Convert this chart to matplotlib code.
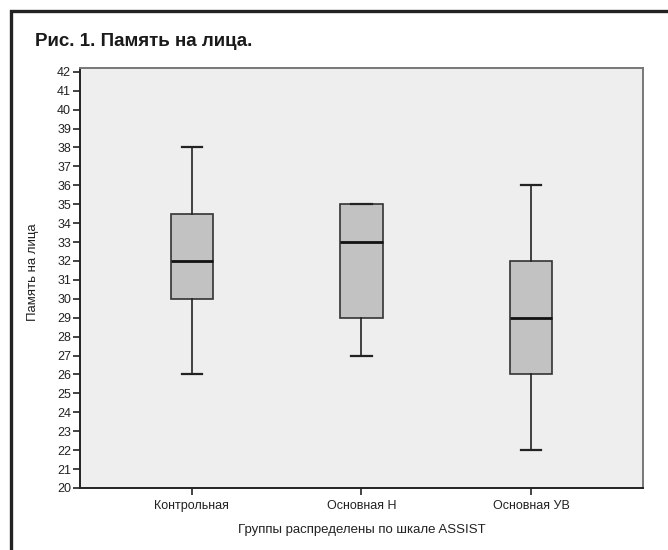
import matplotlib.pyplot as plt
from matplotlib.patches import Rectangle

plt.rcParams['font.family'] = ['Liberation Sans', 'DejaVu Sans']

# данные по группам
groups = ['Контрольная', 'Основная Н', 'Основная УВ']
whislo = [26, 27, 22]
q1 = [30, 29, 26]
med = [32, 33, 29]
q3 = [34.5, 35, 32]
whishi = [38, 35, 36]

stats = []
for i in range(len(groups)):
    stats.append({'label': groups[i], 'whislo': whislo[i], 'q1': q1[i],
                  'med': med[i], 'q3': q3[i], 'whishi': whishi[i], 'fliers': []})

fig = plt.figure(figsize=(6.68, 5.5), dpi=100)
W, H = 668, 550

# рамка вокруг рисунка (справа и снизу обрезана)
fig.patches.append(Rectangle((11 / W, -0.05), 1.0, 1 - 11 / H + 0.05,
                             transform=fig.transFigure, fill=False,
                             edgecolor='#222222', linewidth=2.4))

fig.text(35 / W, 1 - 42 / H, 'Рис. 1. Память на лица.', fontsize=13.5,
         fontweight='bold', va='center', ha='left', color='#1a1a1a')

ax = fig.add_axes([80 / W, 1 - 488 / H, 563 / W, 420 / H])
ax.set_facecolor('#eeeeee')

ax.bxp(stats, positions=[1, 2, 3], widths=0.25, patch_artist=True,
       showfliers=False,
       boxprops=dict(facecolor='#c2c2c2', edgecolor='#333333', linewidth=1.2),
       medianprops=dict(color='#111111', linewidth=2),
       whiskerprops=dict(color='#222222', linewidth=1.2),
       capprops=dict(color='#222222', linewidth=1.6),
       capwidths=0.12)

ax.set_xlim(0.34, 3.66)
ax.set_ylim(20, 42.2)
ax.set_yticks(range(20, 43))
ax.set_xticks([1, 2, 3])
ax.set_xticklabels(groups)
ax.tick_params(axis='both', direction='out', length=5, width=1.2,
               labelsize=9, colors='#222222')
ax.tick_params(axis='y', pad=1.5)

for s in ['left', 'bottom']:
    ax.spines[s].set_color('#222222')
    ax.spines[s].set_linewidth(1.4)
for s in ['top', 'right']:
    ax.spines[s].set_color('#777777')
    ax.spines[s].set_linewidth(1.4)

fig.text(33 / W, 1 - 272 / H, 'Память на лица', fontsize=9.5, rotation=90,
         ha='center', va='center', color='#222222')
fig.text(362 / W, 1 - 530 / H, 'Группы распределены по шкале ASSIST',
         fontsize=9.5, ha='center', va='center', color='#222222')

fig.savefig('out.png', dpi=100, facecolor='white')
